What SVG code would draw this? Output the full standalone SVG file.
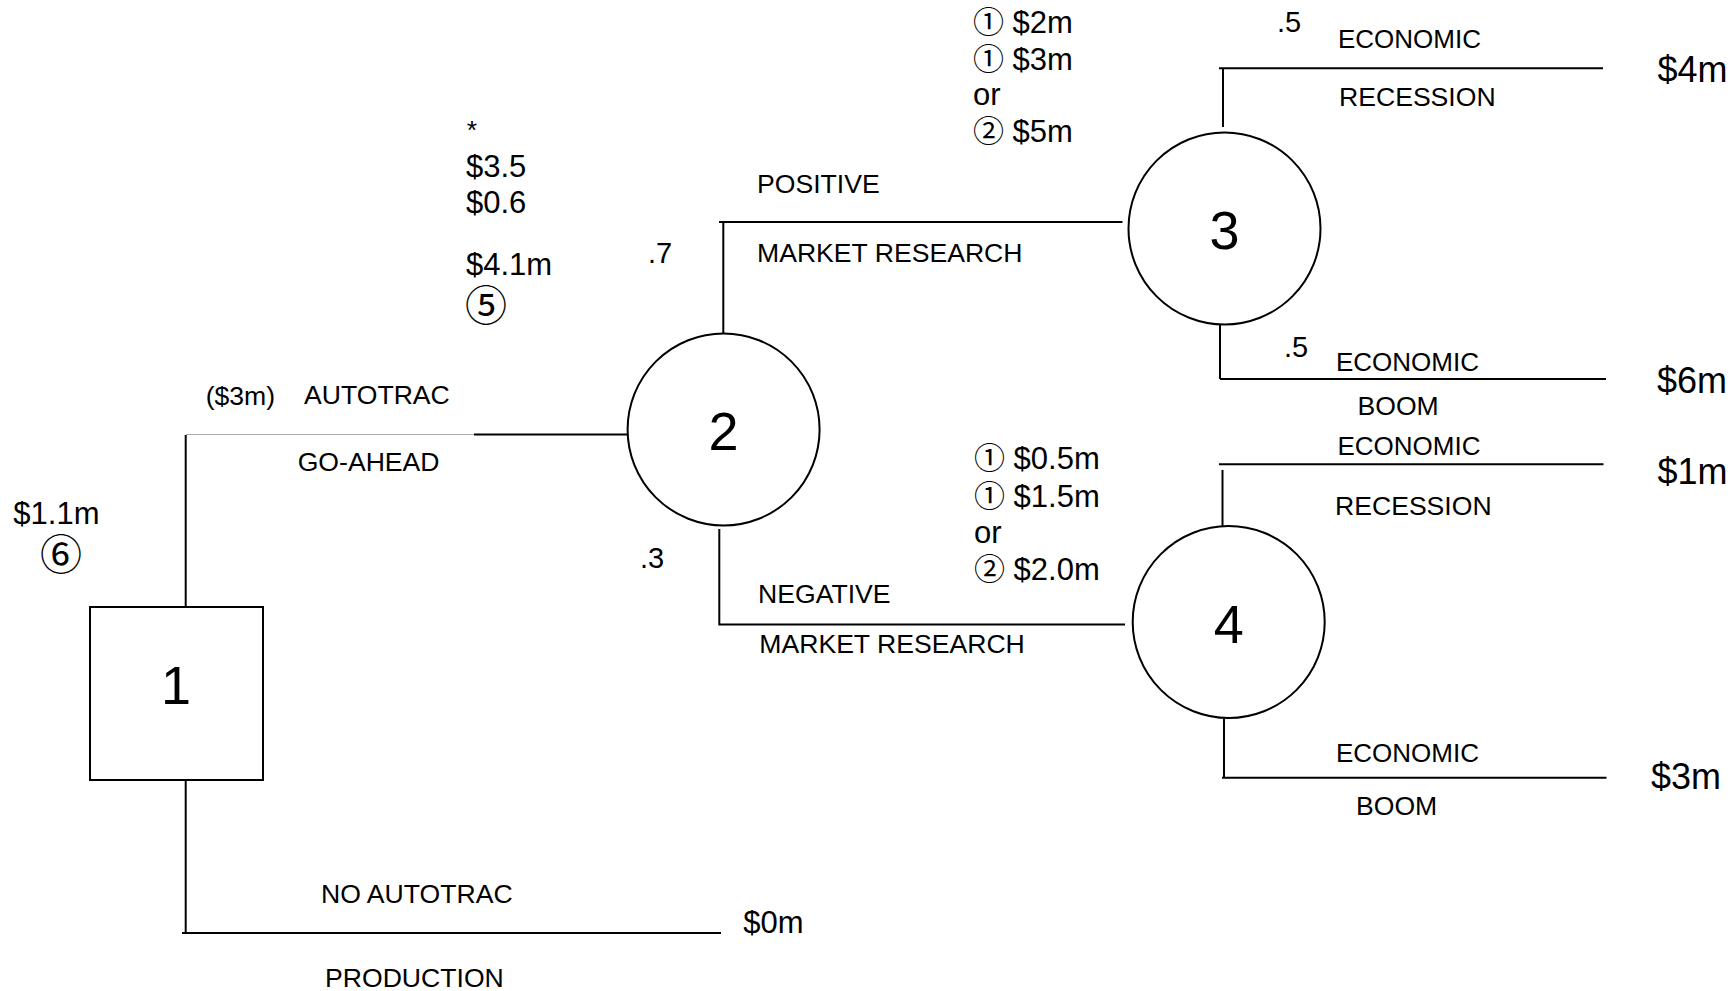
<svg xmlns="http://www.w3.org/2000/svg" width="1735" height="991" viewBox="0 0 1735 991">
<style>
text{font-family:"Liberation Sans","Noto Sans CJK JP",Arial,sans-serif;fill:#000}
.lb{font-size:26.6px}
.ec{font-size:26px}
.v{font-size:31px}
.bv{font-size:36px}
.p{font-size:29px}
.cn{font-size:42px;text-anchor:middle}
.nd{font-size:54px;text-anchor:middle}
.ln{stroke:#000;stroke-width:2;fill:none}
.gr{stroke:#aaa;stroke-width:1.2;fill:none}
.sh{stroke:#000;stroke-width:2;fill:#fff}
</style>
<rect width="1735" height="991" fill="#fff"/>
<g id="connectors">
<polyline class="gr" points="186,434.5 474,434.5"/>
<polyline class="ln" points="474,434.5 627,434.5"/>
<polyline class="ln" points="185.7,435 185.7,607"/>
<polyline class="ln" points="185.7,780 185.7,933"/>
<polyline class="ln" points="182,933 721,933"/>
<polyline class="ln" points="723.3,333 723.3,222 719,222 1122.5,222"/>
<polyline class="ln" points="719.3,529 719.3,624.5 1125,624.5"/>
<polyline class="ln" points="1223,127 1223,68.3"/>
<polyline class="ln" points="1219,68.3 1603,68.3"/>
<polyline class="ln" points="1220,325 1220,379"/>
<polyline class="ln" points="1220,379 1606,379"/>
<polyline class="ln" points="1219,464.3 1603.5,464.3"/>
<polyline class="ln" points="1222.5,470 1222.5,527"/>
<polyline class="ln" points="1224,719 1224,777.7"/>
<polyline class="ln" points="1222,777.7 1606.5,777.7"/>
</g>
<g id="node1">
<rect class="sh" x="90" y="607" width="173" height="173" stroke-width="2.5"/>
<text x="176" y="704" class="nd" font-size="58">1</text>
</g>
<g id="node2">
<circle class="sh" cx="723.6" cy="429.5" r="96"/>
<text x="723.6" y="450" class="nd">2</text>
</g>
<g id="node3">
<circle class="sh" cx="1224.5" cy="228.5" r="96"/>
<text x="1224.5" y="249" class="nd">3</text>
</g>
<g id="node4">
<circle class="sh" cx="1228.7" cy="622" r="96"/>
<text x="1228.7" y="642.5" class="nd">4</text>
</g>
<g id="labels">
<text x="205.7" y="405" class="lb">($3m)</text>
<text x="304" y="404" class="lb">AUTOTRAC</text>
<text x="297.7" y="470.7" class="lb">GO-AHEAD</text>
<text x="13.3" y="524" class="v">$1.1m</text>
<text x="61" y="570" class="cn">⑥</text>
<text x="466.7" y="139" class="lb">*</text>
<text x="466" y="176.7" class="v">$3.5</text>
<text x="466" y="213" class="v">$0.6</text>
<text x="466" y="275" class="v">$4.1m</text>
<text x="486" y="321" class="cn">⑤</text>
<text x="648" y="262.7" class="p">.7</text>
<text x="640" y="568" class="p">.3</text>
<text x="757" y="192.7" class="lb">POSITIVE</text>
<text x="757" y="261.7" class="lb">MARKET RESEARCH</text>
<text x="758" y="602.5" class="lb">NEGATIVE</text>
<text x="759.3" y="653.3" class="lb">MARKET RESEARCH</text>
<text x="321" y="902.7" class="lb">NO AUTOTRAC</text>
<text x="325" y="986.7" class="lb">PRODUCTION</text>
<text x="743.3" y="932.7" class="v">$0m</text>
<text x="973" y="33" class="v">① $2m</text>
<text x="973" y="70" class="v">① $3m</text>
<text x="973" y="105" class="v">or</text>
<text x="973" y="142" class="v">② $5m</text>
<text x="974" y="469" class="v">① $0.5m</text>
<text x="974" y="507" class="v">① $1.5m</text>
<text x="974" y="543" class="v">or</text>
<text x="974" y="580" class="v">② $2.0m</text>
<text x="1277" y="31.7" class="p">.5</text>
<text x="1284" y="357" class="p">.5</text>
<text x="1338" y="47.7" class="ec">ECONOMIC</text>
<text x="1339" y="106" class="lb">RECESSION</text>
<text x="1657.5" y="82" class="bv">$4m</text>
<text x="1336" y="370.7" class="ec">ECONOMIC</text>
<text x="1357.5" y="415" class="lb">BOOM</text>
<text x="1657" y="393" class="bv">$6m</text>
<text x="1337.5" y="455" class="ec">ECONOMIC</text>
<text x="1335" y="515" class="lb">RECESSION</text>
<text x="1657.5" y="484" class="bv">$1m</text>
<text x="1336" y="761.7" class="ec">ECONOMIC</text>
<text x="1356" y="815" class="lb">BOOM</text>
<text x="1651" y="789" class="bv">$3m</text>
</g>
</svg>
